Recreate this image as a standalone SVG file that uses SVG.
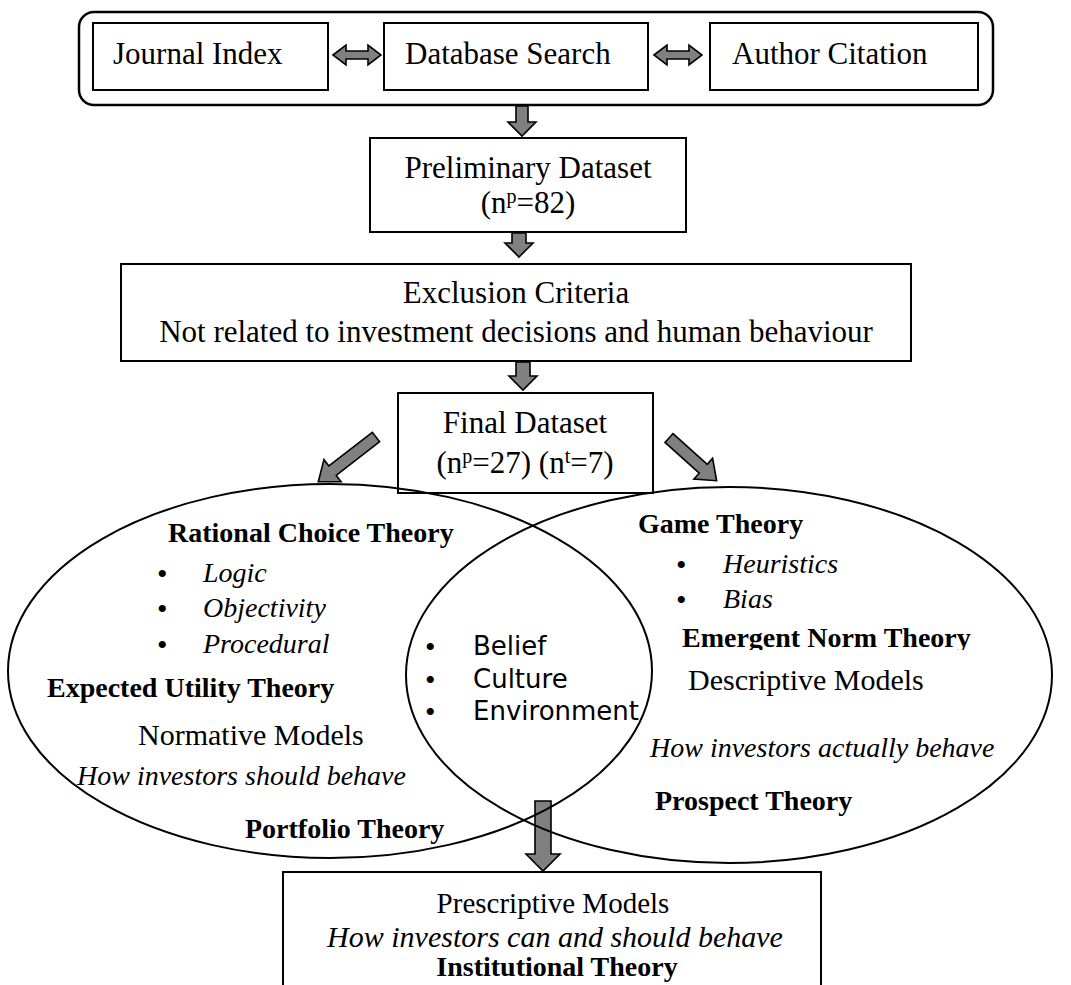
<svg xmlns="http://www.w3.org/2000/svg" width="1071" height="985" viewBox="0 0 1071 985">
  <style>
    .box{fill:#fff;stroke:#000;stroke-width:2}
    .frame{fill:none;stroke:#000;stroke-width:2.5}
    .ell{fill:none;stroke:#000;stroke-width:2}
    .arr{fill:#808080;stroke:#000;stroke-width:1.6;stroke-linejoin:miter}
    text{font-family:"Liberation Serif","Times New Roman",serif;fill:#000}
    .big{font-size:31px}
    .reg{font-size:30px}
    .b{font-weight:bold;font-size:28px}
    .i{font-style:italic;font-size:28px}
    .bul{font-size:30px}
    .sans{font-family:"DejaVu Sans",Verdana,sans-serif;font-size:26px}
    .mid{text-anchor:middle}
  </style>
  <defs>
    <clipPath id="clipEmergent">
      <rect x="600" y="600" width="450" height="50"/>
    </clipPath>
    <!-- block arrow pointing along +x, tail at origin -->
  </defs>

  <rect width="1071" height="985" fill="#fff"/>

  <!-- search sources -->
  <g id="sources">
    <rect class="frame" x="79" y="12" width="914" height="93" rx="15"/>
  </g>
  <g id="journal-index">
    <rect class="box" x="93" y="23" width="235" height="67"/>
    <text class="big" x="113" y="64">Journal Index</text>
  </g>
  <g id="database-search">
    <rect class="box" x="384" y="23" width="264" height="67"/>
    <text class="big" x="405" y="64">Database Search</text>
  </g>
  <g id="author-citation">
    <rect class="box" x="710" y="23" width="268" height="67"/>
    <text class="big" x="732" y="64">Author Citation</text>
  </g>

  <g id="preliminary-dataset">
    <rect class="box" x="370" y="138" width="316" height="94"/>
    <text class="big mid" x="528" y="178">Preliminary Dataset</text>
    <text class="big mid" x="528" y="213">(n<tspan font-size="20" dy="-10">p</tspan><tspan dy="10">=82)</tspan></text>
  </g>

  <g id="exclusion-criteria">
    <rect class="box" x="121" y="264" width="790" height="97"/>
    <text class="big mid" x="516" y="303">Exclusion Criteria</text>
    <text class="big mid" x="516" y="342">Not related to investment decisions and human behaviour</text>
  </g>

  <g id="final-dataset">
    <rect class="box" x="398" y="393" width="255" height="100"/>
    <text class="big mid" x="525" y="433">Final Dataset</text>
    <text class="big mid" x="525" y="473">(n<tspan font-size="20" dy="-10">p</tspan><tspan dy="10">=27) (n</tspan><tspan font-size="20" dy="-10">t</tspan><tspan dy="10">=7)</tspan></text>
  </g>

  <g id="prescriptive-models">
    <rect class="box" x="283" y="872" width="538" height="130"/>
    <text class="reg mid" x="553" y="913" style="font-size:29px">Prescriptive Models</text>
    <text class="i mid" x="555" y="947" style="font-size:30px">How investors can and should behave</text>
    <text class="b mid" x="557" y="976">Institutional Theory</text>
  </g>

  <!-- connectors -->
  <g id="connectors">
    <polygon class="arr" points="333,55 346,45 346,51 368,51 368,45 381,55 368,65 368,59 346,59 346,65"/>
    <polygon class="arr" points="654,55 667,45 667,51 689,51 689,45 702,55 689,65 689,59 667,59 667,65"/>
    <polygon class="arr" points="516,106 528,106 528,122 536,122 522,136 508,122 516,122"/>
    <polygon class="arr" points="512,233 526,233 526,243 533,243 519,257 505,243 512,243"/>
    <polygon class="arr" points="516,362 530,362 530,376 537,376 523,390 509,376 516,376"/>
    <polygon class="arr" transform="translate(376,437) rotate(142.2)" points="0,-6 55,-6 55,-14 73,0 55,14 55,6 0,6"/>
    <polygon class="arr" transform="translate(669,438) rotate(41.9)" points="0,-6 46,-6 46,-14 64,0 46,14 46,6 0,6"/>
    <polygon class="arr" points="535,801 551,801 551,854 560,854 543,871 526,854 535,854"/>
  </g>

  <!-- theory domains -->
  <g id="normative-domain">
    <ellipse class="ell" cx="330" cy="671" rx="322" ry="187"/>
    <text class="b" x="168" y="542">Rational Choice Theory</text>
    <text class="bul" x="157" y="584">•</text>
    <text class="i" x="203" y="582">Logic</text>
    <text class="bul" x="157" y="619">•</text>
    <text class="i" x="203" y="617">Objectivity</text>
    <text class="bul" x="157" y="655">•</text>
    <text class="i" x="203" y="653">Procedural</text>
    <text class="b" x="47" y="697">Expected Utility Theory</text>
    <text class="reg" x="138" y="745">Normative Models</text>
    <text class="i" x="77" y="785">How investors should behave</text>
    <text class="b" x="245" y="838">Portfolio Theory</text>
  </g>

  <g id="descriptive-domain">
    <ellipse class="ell" cx="729" cy="675" rx="323" ry="188"/>
    <text class="b" x="638" y="533">Game Theory</text>
    <text class="bul" x="676" y="575">•</text>
    <text class="i" x="723" y="573">Heuristics</text>
    <text class="bul" x="676" y="610">•</text>
    <text class="i" x="723" y="608">Bias</text>
    <text class="b" x="682" y="647" clip-path="url(#clipEmergent)">Emergent Norm Theory</text>
    <text class="reg" x="688" y="690">Descriptive Models</text>
    <text class="i" x="650" y="757">How investors actually behave</text>
    <text class="b" x="655" y="810">Prospect Theory</text>
  </g>

  <g id="shared-factors">
    <text class="bul" x="425" y="657">•</text>
    <text class="sans" x="473" y="655">Belief</text>
    <text class="bul" x="425" y="690">•</text>
    <text class="sans" x="473" y="688">Culture</text>
    <text class="bul" x="425" y="722">•</text>
    <text class="sans" x="473" y="720">Environment</text>
  </g>
</svg>
